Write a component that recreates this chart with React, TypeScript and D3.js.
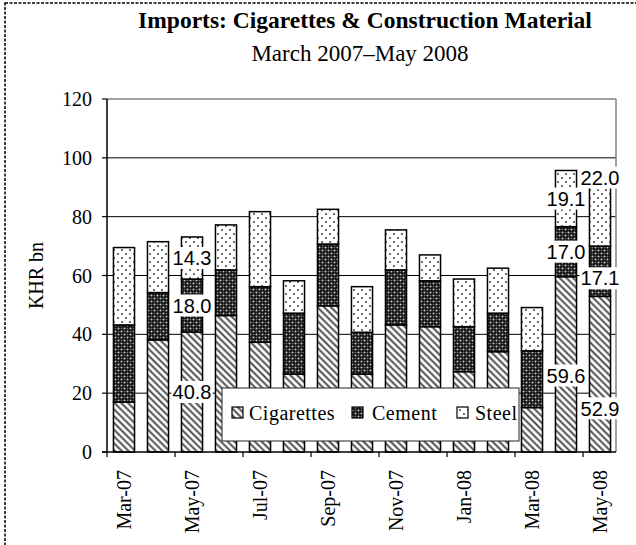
import React from "react";
import * as d3 from "d3";

// monthly imports, KHR bn
const months = [
    "Mar-07", "Apr-07", "May-07", "Jun-07", "Jul-07", "Aug-07", "Sep-07", "Oct-07",
    "Nov-07", "Dec-07", "Jan-08", "Feb-08", "Mar-08", "Apr-08", "May-08"
];
const cigarettes = [17.0, 38.1, 40.8, 46.4, 37.3, 26.5, 49.7, 26.5, 43.2, 42.6, 27.3, 34.1, 15.1, 59.6, 52.9];
const cement = [26.2, 16.1, 18.0, 15.5, 18.9, 20.7, 21.0, 14.2, 18.7, 15.6, 15.3, 13.1, 19.3, 17.0, 17.1];
const steel = [26.3, 17.3, 14.3, 15.3, 25.5, 11.0, 11.8, 15.5, 13.6, 8.8, 16.2, 15.3, 14.7, 19.1, 22.0];
const yTicks = [0, 20, 40, 60, 80, 100, 120];
const labelledMonths = ["May-07", "Apr-08", "May-08"];

const seriesKeys = ["Cigarettes", "Cement", "Steel"];
const patternIds: Record<string, string> = {Cigarettes: "hatch", Cement: "check", Steel: "dots"};

// manual label nudges (in value units), like the hand-moved labels of the original
const labelNudge: Record<string, number> = {"Apr-08|Cigarettes": -3.8, "May-08|Cigarettes": -11.6, "May-08|Cement": -2.4, "May-08|Steel": 12.3};

const width = 636;
const height = 545;
const margin = {top: 99, right: 20, bottom: 93, left: 107};

const serif = "'Liberation Serif', 'Times New Roman', Times, serif";
const sans = "'Liberation Sans', Arial, sans-serif";

function App(): JSX.Element {
    const rows = months.map((m, i) => ({month: m, Cigarettes: cigarettes[i], Cement: cement[i], Steel: steel[i]}));
    const stacked = d3.stack<any>().keys(seriesKeys)(rows);

    const x = d3.scaleBand()
        .domain(months)
        .range([margin.left, width - margin.right + 1])
        .paddingInner(0.38)
        .paddingOuter(0.19);
    const y = d3.scaleLinear().domain([0, 120]).range([height - margin.bottom, margin.top]);

    const x0 = margin.left;
    const x1 = width - margin.right;
    const step = x.step();
    const bandStart = (i: number) => margin.left + i * step;

    // label boxes for the three labelled months
    const labels: Array<{key: string, cx: number, cy: number, text: string}> = [];
    stacked.forEach(layer => {
        layer.forEach((d, i) => {
            const m = months[i];
            if (labelledMonths.indexOf(m) < 0) return;
            const nudge = labelNudge[m + "|" + layer.key] || 0;
            labels.push({
                key: m + layer.key,
                cx: (x(m) || 0) + x.bandwidth() / 2,
                cy: y((d[0] + d[1]) / 2 + nudge),
                text: (d[1] - d[0]).toFixed(1)
            });
        });
    });

    const legendX = 222, legendY = 388;
    const legendItems = [
        {key: "Cigarettes", dx: 10, tx: 27},
        {key: "Cement", dx: 130, tx: 150},
        {key: "Steel", dx: 235, tx: 253}
    ];

    return (
        <svg width={width} height={height} fontFamily={serif}
             style={{position: "absolute", left: 0, top: 0, background: "#fff", fontFamily: serif}}>
            <defs>
                <pattern id="hatch" patternUnits="userSpaceOnUse" width={4.8} height={4.8} patternTransform="rotate(45)">
                    <rect width={4.8} height={4.8} fill="#fff"/>
                    <line x1={0} y1={2.4} x2={4.8} y2={2.4} stroke="#3a3a3a" strokeWidth={1.8}/>
                </pattern>
                <pattern id="check" patternUnits="userSpaceOnUse" width={6} height={6}>
                    <rect width={6} height={6} fill="#151515"/>
                    <circle cx={1.5} cy={1.5} r={1} fill="#c8c8c8"/>
                    <circle cx={4.5} cy={4.5} r={1} fill="#c8c8c8"/>
                    <circle cx={4.5} cy={1.5} r={0.8} fill="#777"/>
                    <circle cx={1.5} cy={4.5} r={0.8} fill="#777"/>
                </pattern>
                <pattern id="dots" patternUnits="userSpaceOnUse" width={8} height={8}>
                    <rect width={8} height={8} fill="#fff"/>
                    <circle cx={2} cy={2} r={0.95} fill="#333"/>
                    <circle cx={6} cy={6} r={0.95} fill="#333"/>
                </pattern>
            </defs>

            {/* dashed frame of the chart object (cropped at right/bottom) */}
            <rect x={5} y={3} width={720} height={620} fill="none" stroke="#000" strokeWidth={1.5} strokeDasharray="3,1.5"/>

            <text x={365} y={28} textAnchor="middle" style={{fontFamily: serif}} fontWeight="bold" fontSize={23.5}>
                Imports: Cigarettes &amp; Construction Material
            </text>
            <text x={360} y={61} textAnchor="middle" style={{fontFamily: serif}} fontSize={23}>
                March 2007–May 2008
            </text>

            {/* gridlines */}
            {yTicks.filter(t => t > 0 && t < 120).map(t => (
                <line key={t} x1={x0} x2={x1} y1={y(t)} y2={y(t)} stroke="#000" strokeWidth={1}/>
            ))}
            {/* plot frame top/right */}
            <line x1={x0} x2={x1} y1={y(120)} y2={y(120)} stroke="#808080" strokeWidth={1.5}/>
            <line x1={x1} x2={x1} y1={y(120)} y2={y(0)} stroke="#808080" strokeWidth={1.5}/>

            {/* bars */}
            {stacked.map(layer => (
                <g key={layer.key}>
                    {layer.map((d, i) => (
                        <rect key={i}
                              x={x(months[i])}
                              y={y(d[1])}
                              width={x.bandwidth()}
                              height={y(d[0]) - y(d[1])}
                              fill={`url(#${patternIds[layer.key]})`}
                              stroke="#000"
                              strokeWidth={1.5}/>
                    ))}
                </g>
            ))}

            {/* y axis */}
            <line x1={x0} x2={x0} y1={y(120)} y2={y(0)} stroke="#000" strokeWidth={1.5}/>
            {yTicks.map(t => (
                <g key={t}>
                    <line x1={x0 - 5} x2={x0} y1={y(t)} y2={y(t)} stroke="#000" strokeWidth={1.2}/>
                    <text x={x0 - 15} y={y(t)} dy="0.35em" textAnchor="end" style={{fontFamily: serif}} fontSize={20}>{t}</text>
                </g>
            ))}
            <text transform={`translate(36,${(y(0) + y(120)) / 2}) rotate(-90)`} textAnchor="middle" dy="0.35em"
                  style={{fontFamily: serif}} fontSize={20}>KHR bn</text>

            {/* x axis */}
            <line x1={x0 - 5} x2={x1} y1={y(0)} y2={y(0)} stroke="#000" strokeWidth={1.5}/>
            {months.map((m, i) => i % 2 === 0 ? (
                <g key={m}>
                    <line x1={bandStart(i)} x2={bandStart(i)} y1={y(0)} y2={y(0) + 5} stroke="#000" strokeWidth={1.2}/>
                    <text transform={`translate(${bandStart(i) + step / 2},${y(0) + 18}) rotate(-90)`}
                          textAnchor="end" dy="0.35em" style={{fontFamily: serif}} fontSize={20}>{m}</text>
                </g>
            ) : null)}

            {/* data labels */}
            {labels.map(l => {
                const w = l.text.length * 9.8 + 2;
                return (
                    <g key={l.key}>
                        <rect x={l.cx - w / 2} y={l.cy - 11} width={w} height={22} fill="#fff"/>
                        <text x={l.cx} y={l.cy} dy="0.36em" textAnchor="middle" style={{fontFamily: sans}} fontSize={20}>{l.text}</text>
                    </g>
                );
            })}

            {/* legend */}
            <g transform={`translate(${legendX},${legendY})`}>
                <rect width={297} height={53} fill="#fff" stroke="#222" strokeWidth={1}/>
                {legendItems.map(it => (
                    <g key={it.key}>
                        <rect x={it.dx} y={19} width={11} height={11} fill={`url(#${patternIds[it.key]})`} stroke="#000" strokeWidth={1.2}/>
                        <text x={it.tx} y={32} style={{fontFamily: serif}} fontSize={20} letterSpacing={0.5}>{it.key}</text>
                    </g>
                ))}
            </g>
        </svg>
    );
}

export default App;
